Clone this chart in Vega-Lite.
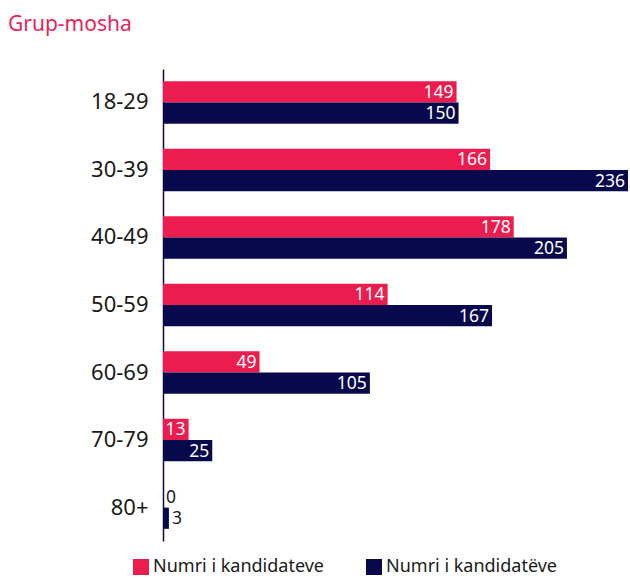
{
  "$schema": "https://vega.github.io/schema/vega-lite/v6.json",
  "width": 465,
  "height": 472,
  "autosize": {"type": "none"},
  "padding": {"left": 163, "top": 69, "right": 2, "bottom": 37},
  "background": "white",
  "config": {"view": {"stroke": null}, "font": "Noto Sans"},
  "title": {"text": "Grup-mosha", "anchor": "start", "frame": "group", "dx": -155, "dy": -13, "fontSize": 21, "fontWeight": "normal", "color": "#E8245A", "offset": 0, "baseline": "bottom"},
  "data": {"values": [
    {"group": "18-29", "series": "Numri i kandidateve", "value": 149},
    {"group": "18-29", "series": "Numri i kandidatëve", "value": 150},
    {"group": "30-39", "series": "Numri i kandidateve", "value": 166},
    {"group": "30-39", "series": "Numri i kandidatëve", "value": 236},
    {"group": "40-49", "series": "Numri i kandidateve", "value": 178},
    {"group": "40-49", "series": "Numri i kandidatëve", "value": 205},
    {"group": "50-59", "series": "Numri i kandidateve", "value": 114},
    {"group": "50-59", "series": "Numri i kandidatëve", "value": 167},
    {"group": "60-69", "series": "Numri i kandidateve", "value": 49},
    {"group": "60-69", "series": "Numri i kandidatëve", "value": 105},
    {"group": "70-79", "series": "Numri i kandidateve", "value": 13},
    {"group": "70-79", "series": "Numri i kandidatëve", "value": 25},
    {"group": "80+", "series": "Numri i kandidateve", "value": 0},
    {"group": "80+", "series": "Numri i kandidatëve", "value": 3}
  ]},
  "encoding": {
    "y": {"field": "group", "type": "nominal", "sort": null,
      "scale": {"paddingInner": 0.37, "paddingOuter": 0.18},
      "axis": {"title": null, "ticks": false, "labelFontSize": 22, "labelColor": "#1a1a1a", "labelPadding": 15, "domainColor": "#0A0A50", "domainWidth": 1.5, "grid": false}},
    "yOffset": {"field": "series", "type": "nominal", "sort": null, "scale": {"paddingInner": 0, "paddingOuter": 0}},
    "x": {"field": "value", "type": "quantitative", "scale": {"domain": [0, 236], "nice": false}, "axis": null}
  },
  "layer": [
    {
      "mark": {"type": "bar"},
      "encoding": {
        "color": {"field": "series", "type": "nominal", "sort": null,
          "scale": {"domain": ["Numri i kandidateve", "Numri i kandidatëve"], "range": ["#ED1C4F", "#08084D"]},
          "legend": {"title": null, "orient": "none", "direction": "horizontal", "legendX": -31, "legendY": 489, "symbolType": "square", "symbolSize": 256, "symbolStrokeWidth": 0, "labelFontSize": 18, "labelLimit": 300, "labelColor": "#1a1a1a", "columnPadding": 40, "labelOffset": 3}}
      }
    },
    {
      "transform": [{"filter": "datum.value >= 10"}],
      "mark": {"type": "text", "align": "right", "baseline": "middle", "dx": -3, "dy": 1, "fontSize": 17.5, "color": "white"},
      "encoding": {"text": {"field": "value", "type": "quantitative"}}
    },
    {
      "transform": [{"filter": "datum.value < 10"}],
      "mark": {"type": "text", "align": "left", "baseline": "middle", "dx": 3, "dy": 1, "fontSize": 17.5, "color": "#1a1a1a"},
      "encoding": {
        "text": {"field": "value", "type": "quantitative"}
      }
    }
  ]
}
